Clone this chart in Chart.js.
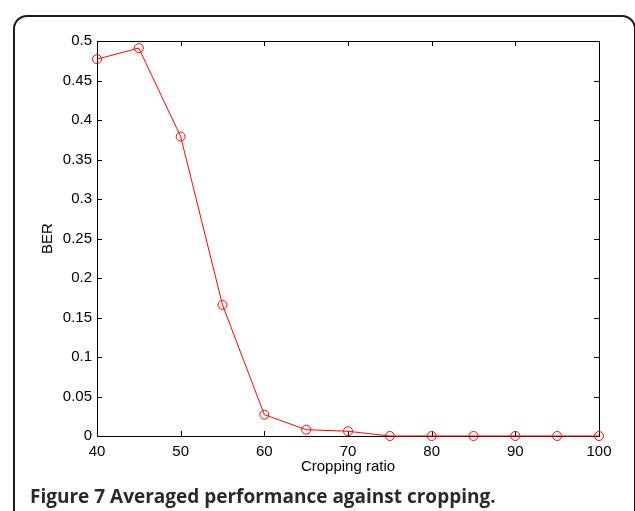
<!DOCTYPE html>
<html>
<head>
<meta charset="utf-8">
<script src="https://cdn.jsdelivr.net/npm/chart.js@4"></script>
<style>
  html, body { margin: 0; padding: 0; background: #fff; overflow: hidden; }
  #wrap { position: relative; width: 635px; height: 511px; overflow: hidden; }
  #frame {
    position: absolute; left: 13px; top: 15px;
    width: 623px; height: 600px; box-sizing: border-box;
    border: 2px solid #1a1a1a; border-radius: 14px;
  }
  #chart { position: absolute; left: 0; top: 0; }
  #caption {
    position: absolute; left: 30px; top: 483px;
    font-family: "Open Sans", sans-serif; font-weight: bold;
    font-size: 19px; color: #2a2a2a; white-space: nowrap;
  }
</style>
</head>
<body>
<div id="wrap">
  <div id="frame"></div>
  <canvas id="chart" width="635" height="511"></canvas>
  <div id="caption">Figure 7 Averaged performance against cropping.</div>
</div>
<script>
// cropping ratio (%) and bit error rate
const croppingRatio = [40, 45, 50, 55, 60, 65, 70, 75, 80, 85, 90, 95, 100];
const berValues = [0.477, 0.491, 0.379, 0.166, 0.027, 0.008, 0.006, 0, 0, 0, 0, 0, 0];

const xTickLabels = ["40", "50", "60", "70", "80", "90", "100"];
const yTickLabels = ["0", "0.05", "0.1", "0.15", "0.2", "0.25", "0.3", "0.35", "0.4", "0.45", "0.5"];

const fontFamily = '"Liberation Sans", Arial, Helvetica, sans-serif';

// matlab style box with inward ticks on all four sides
const boxPlugin = {
    id: "matlabBox",
    beforeDatasetsDraw(chart) {
        const { ctx, chartArea: a, scales } = chart;
        const len = 5;
        ctx.save();
        ctx.strokeStyle = "#000";
        ctx.lineWidth = 1;
        ctx.strokeRect(a.left + 0.5, a.top + 0.5, a.right - a.left, a.bottom - a.top);
        ctx.beginPath();
        scales.x.ticks.forEach(t => {
            const px = Math.round(scales.x.getPixelForValue(t.value)) + 0.5;
            ctx.moveTo(px, a.bottom); ctx.lineTo(px, a.bottom - len);
            ctx.moveTo(px, a.top); ctx.lineTo(px, a.top + len);
        });
        scales.y.ticks.forEach(t => {
            const py = Math.round(scales.y.getPixelForValue(t.value)) + 0.5;
            ctx.moveTo(a.left, py); ctx.lineTo(a.left + len, py);
            ctx.moveTo(a.right, py); ctx.lineTo(a.right - len, py);
        });
        ctx.stroke();
        ctx.restore();
    }
};

new Chart(document.getElementById("chart"), {
    type: "line",
    data: {
        datasets: [{
            data: croppingRatio.map((x, i) => ({ x, y: berValues[i] })),
            borderColor: "#ff0000",
            borderWidth: 1,
            pointRadius: 4.5,
            pointHoverRadius: 4.5,
            pointStyle: "circle",
            pointBorderColor: "#ff0000",
            pointBackgroundColor: "rgba(0,0,0,0)",
            pointBorderWidth: 1,
            tension: 0,
            clip: false
        }]
    },
    options: {
        responsive: false,
        animation: false,
        devicePixelRatio: 1,
        layout: { padding: { left: 38.5, top: 41, right: 36, bottom: 35 } },
        plugins: { legend: { display: false }, tooltip: { enabled: false } },
        scales: {
            x: {
                type: "linear",
                min: 40, max: 100,
                grid: { display: false, drawTicks: false },
                border: { display: false },
                ticks: {
                    stepSize: 10,
                    padding: 7,
                    maxRotation: 0,
                    color: "#000",
                    font: { family: fontFamily, size: 15 },
                    callback: (v, i) => xTickLabels[i]
                },
                title: {
                    display: true,
                    text: "Cropping ratio",
                    color: "#000",
                    padding: 0,
                    font: { family: fontFamily, size: 15 }
                },
                afterFit: s => { s.height = 40; }
            },
            y: {
                min: 0, max: 0.5,
                grid: { display: false, drawTicks: false },
                border: { display: false },
                ticks: {
                    stepSize: 0.05,
                    padding: 5,
                    color: "#000",
                    font: { family: fontFamily, size: 15 },
                    callback: (v, i) => yTickLabels[i]
                },
                title: {
                    display: true,
                    text: "BER",
                    color: "#000",
                    padding: 0,
                    font: { family: fontFamily, size: 15 }
                },
                afterFit: s => { s.width = 58.5; }
            }
        }
    },
    plugins: [boxPlugin]
});
</script>
</body>
</html>
